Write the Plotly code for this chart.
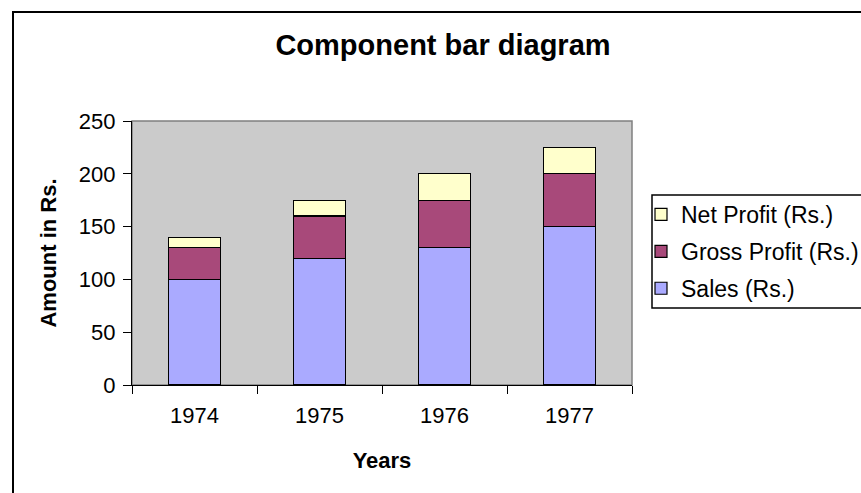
import plotly.graph_objects as go

years = ["1974", "1975", "1976", "1977"]
sales = [100, 120, 130, 150]
gross_profit = [30, 40, 45, 50]
net_profit = [10, 15, 25, 25]
series_names = ["Sales (Rs.)", "Gross Profit (Rs.)", "Net Profit (Rs.)"]
series_colors = ["#AAAAFF", "#A8497A", "#FFFFCC"]
legend_ranks = [3, 2, 1]

# page body margin is removed below, so figure pixels == window pixels
OFF = 0
W, H = 861, 493
PW, PH = 500, 264
L, T = 132 - OFF, 121 - OFF
R, B = W - L - PW, H - T - PH

def px_x(x):
    return (x - OFF - L) / PW

def px_y(y):
    return (T + PH - (y - OFF)) / PH

fig = go.Figure()
for name, vals, col, rank in zip(series_names, [sales, gross_profit, net_profit], series_colors, legend_ranks):
    fig.add_trace(go.Bar(
        x=years, y=vals, name=name, legendgroup=name, legendrank=rank,
        marker=dict(color=col, line=dict(color="black", width=1.2)),
        width=0.42,
    ))

font_main = "Arial, Liberation Sans, sans-serif"

fig.update_layout(
    width=W, height=H,
    barmode="stack",
    paper_bgcolor="white",
    plot_bgcolor="#CBCBCB",
    margin=dict(l=L, r=R, t=T, b=B, autoexpand=False),
    font=dict(family=font_main, color="black", size=21),
    title=dict(
        text="<b>Component bar diagram</b>",
        font=dict(size=29, family=font_main, color="black"),
        xref="container", yref="container",
        x=(443 - OFF) / W, xanchor="center",
        y=1 - (45 - OFF) / H, yanchor="middle",
    ),
    showlegend=True,
    legend=dict(
        x=px_x(641), xanchor="left",
        y=px_y(193), yanchor="top",
        traceorder="grouped",
        tracegroupgap=4,
        itemwidth=30,
        bgcolor="rgba(0,0,0,0)",
        borderwidth=0,
        font=dict(size=23, family=font_main, color="black"),
    ),
    xaxis=dict(
        type="category",
        showgrid=False,
        showline=True, linecolor="black", linewidth=1.2,
        ticks="outside", tickson="boundaries", ticklen=8, tickcolor="black", tickwidth=1.2,
        tickfont=dict(size=22),
        ticklabelstandoff=10,
        title=dict(text="<b>Years</b>", font=dict(size=22), standoff=26),
        automargin=False,
        fixedrange=True,
    ),
    yaxis=dict(
        range=[0, 250], dtick=50,
        showgrid=False, zeroline=False,
        showline=True, linecolor="black", linewidth=1.2,
        ticks="outside", ticklen=8, tickcolor="black", tickwidth=1.2,
        tickfont=dict(size=22),
        ticklabelstandoff=3,
        title=dict(text="<b>Amount in Rs.</b>", font=dict(size=22), standoff=16),
        automargin=False,
        fixedrange=True,
    ),
    shapes=[
        dict(type="rect", xref="paper", yref="paper", x0=0, x1=1, y0=0, y1=1,
             line=dict(color="#808080", width=1.5), layer="below"),
        dict(type="rect", xref="paper", yref="paper",
             x0=px_x(652), x1=px_x(920), y0=px_y(308), y1=px_y(195),
             line=dict(color="black", width=1.5), layer="above"),
        dict(type="rect", xref="paper", yref="paper",
             x0=px_x(13), x1=px_x(900), y0=px_y(520), y1=px_y(12),
             line=dict(color="black", width=2), layer="above"),
    ],
)

fig.write_html(
    "out.html",
    config={"displayModeBar": False},
    post_script="document.body.style.margin='0';document.body.style.overflow='hidden';",
)
